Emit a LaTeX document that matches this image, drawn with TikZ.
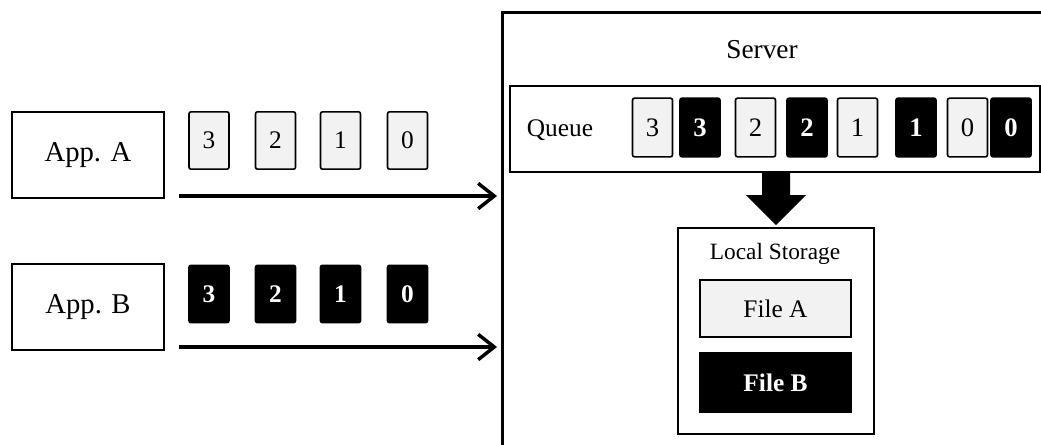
\documentclass[tikz,border=0pt]{standalone}
\usepackage{fontspec}
\setmainfont{Liberation Serif}
\usetikzlibrary{arrows.meta,positioning,calc}

\begin{document}
\begin{tikzpicture}[x = 0.75pt, y = -0.75pt,
  appbox/.style = {draw, line width = 1.5pt, minimum width = 114pt, minimum height = 64pt, inner sep = 0pt, font = \fontsize{21.5}{24}\selectfont},
  pkta/.style = {draw, line width = 1.2pt, rounded corners = 1.5pt, fill = black!5, minimum width = 30pt, minimum height = 43pt, inner sep = 0pt},
  pktb/.style = {pkta, fill = black, text = white, font = \bfseries\fontsize{19}{22}\selectfont},
  flow/.style = {line width = 2.6pt, -{Straight Barb[length = 12pt, width = 19pt, line width = 2.6pt]}}]
\useasboundingbox (0,0) rectangle (1041,444);
\begin{scope}
\clip (0,0) rectangle (1041,444);
\node[draw, line width = 2.4pt, anchor = north west, minimum width = 430pt, minimum height = 350pt] (srv) at (501,11) {};
\end{scope}
\node[font = \fontsize{20.5}{24}\selectfont] (srvlbl) at (762,50) {Server};

% applications
\node[appbox] (appa) at (88,155) {App. A};
\node[appbox] (appb) at (88,307) {App. B};

% packets on the way
\foreach \n/\x in {3/209, 2/275.5, 1/340.5, 0/407.5}{
  \node[pkta, font = \fontsize{19}{22}\selectfont] (pa\n) at (\x,140.5) {\n};
  \node[pktb] (pb\n) at (\x,294) {\n};
}
\coordinate (sa) at (179,196);
\coordinate (sb) at (179,347);
\draw[flow] (sa) -- ([xshift = -3pt]sa -| srv.west);
\draw[flow] (sb) -- ([xshift = -3pt]sb -| srv.west);

% queue
\node[draw, line width = 1.6pt, anchor = north west, minimum width = 397.5pt, minimum height = 64.5pt] (queue) at (509,85) {};
\node[font = \fontsize{19}{22}\selectfont] (qlbl) at (560,130) {Queue};
\foreach \n/\xa/\xb in {3/652.5/700, 2/755.5/807, 1/857.5/916, 0/967.5/1011}{
  \node[pkta, minimum height = 44pt, font = \fontsize{20}{24}\selectfont] (qa\n) at (\xa,127.5) {\n};
  \node[pktb, minimum height = 44pt, font = \bfseries\fontsize{20}{24}\selectfont] (qb\n) at (\xb,127.5) {\n};
}

% local storage
\node[draw, line width = 1.5pt, anchor = north west, minimum width = 147pt, minimum height = 154.5pt] (store) at (677,227) {};
\node[font = \fontsize{17.5}{20}\selectfont] (stlbl) at (775,254) {Local Storage};
\node[draw, line width = 1.5pt, fill = black!5, minimum width = 113pt, minimum height = 43pt, font = \fontsize{19}{22}\selectfont] (filea) at (775.5,308.5) {File A};
\node[draw, line width = 1.5pt, fill = black, text = white, minimum width = 113pt, minimum height = 44pt, font = \bfseries\fontsize{19}{22}\selectfont] (fileb) at (775.5,382.5) {File B};

\fill (queue.south -| store.north) ++(-14,0) -- ++(28,0) -- ++(0,22) -- ++(16,0) -- ++(-30,30) -- ++(-30,-30) -- ++(16,0) -- cycle;
\end{tikzpicture}
\end{document}
